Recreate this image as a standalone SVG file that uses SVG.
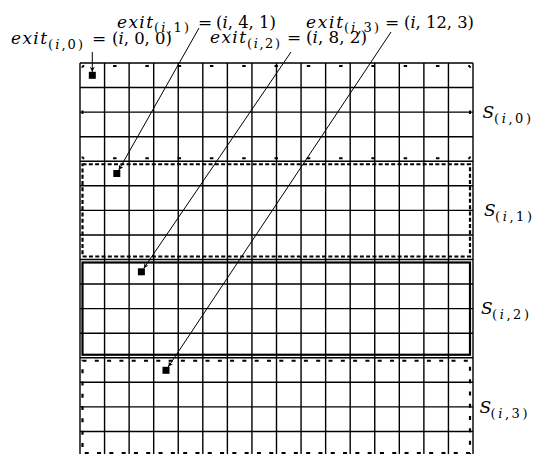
<svg xmlns="http://www.w3.org/2000/svg" width="533" height="454" viewBox="0 0 533 454">
<style>
.grid{fill:none;stroke:#000;stroke-width:1.4}
.band{fill:none;stroke:#000;stroke-width:2.2}
.b0{fill:none;stroke:#000;stroke-width:1.9}
.sq{fill:#000}
.conn{fill:none;stroke:#000;stroke-width:1}
text{font-family:"DejaVu Serif","Liberation Serif",serif;fill:#000}
.m{font-size:17px}
.s{font-size:13px}
.it{font-style:italic}
</style>
<defs>
<marker id="ah" viewBox="0 0 10 10" refX="10" refY="5" markerWidth="5" markerHeight="5" orient="auto" markerUnits="userSpaceOnUse">
<path d="M0,0 L10,5 L0,10 L3,5 Z" fill="#000"/>
</marker>
</defs>
<rect width="533" height="454" fill="#fff"/>
<g id="grid">
<path class="grid" d="M80,63V456M104.56,63V456M129.13,63V456M153.69,63V456M178.25,63V456M202.81,63V456M227.38,63V456M251.94,63V456M276.5,63V456M301.06,63V456M325.63,63V456M350.19,63V456M374.75,63V456M399.31,63V456M423.88,63V456M448.44,63V456M473,63V456M80,63H473M80,87.56H473M80,112.13H473M80,136.69H473M80,161.25H473M80,185.81H473M80,210.38H473M80,234.94H473M80,259.5H473M80,284.06H473M80,308.63H473M80,333.19H473M80,357.75H473M80,382.31H473M80,406.88H473M80,431.44H473"/>
</g>
<g id="band0">
<path class="b0" d="M82.5,66H470M82.5,158.25H470" stroke-dasharray="3.5 28.79" stroke-dashoffset="1.75"/>
<path class="b0" d="M82.5,66V158.25M470,66V158.25" stroke-dasharray="3.5 42.63" stroke-dashoffset="1.75"/>
</g>
<g id="band1"><rect class="band" x="82.5" y="164.25" width="387.5" height="92.25" stroke-dasharray="4 2.3"/></g>
<g id="band2"><rect class="band" x="82.5" y="262.5" width="387.5" height="92.25"/></g>
<g id="band3"><rect class="band" x="82.5" y="360.75" width="387.5" height="92.25" stroke-dasharray="4 8.3"/></g>
<g id="exit0">
<rect class="sq" x="88.8" y="71.8" width="7" height="7"/>
<text class="m it" x="11" y="44" textLength="36" lengthAdjust="spacing">exit</text>
<text class="s" x="48" y="49" textLength="35" lengthAdjust="spacing">(<tspan class="it">i</tspan>,0)</text>
<text class="m" x="92" y="44">=</text>
<text class="m" x="112" y="44" textLength="60" lengthAdjust="spacingAndGlyphs">(<tspan class="it">i</tspan>, 0, 0)</text>
</g>
<g id="exit1">
<rect class="sq" x="113.3" y="170" width="7" height="7"/>
<text class="m it" x="117" y="27.5" textLength="36" lengthAdjust="spacing">exit</text>
<text class="s" x="154" y="32" textLength="35" lengthAdjust="spacing">(<tspan class="it">i</tspan>,1)</text>
<text class="m" x="198" y="27.5">=</text>
<text class="m" x="216" y="27.5" textLength="60" lengthAdjust="spacingAndGlyphs">(<tspan class="it">i</tspan>, 4, 1)</text>
</g>
<g id="exit2">
<rect class="sq" x="137.9" y="268.3" width="7" height="7"/>
<text class="m it" x="210" y="43" textLength="36" lengthAdjust="spacing">exit</text>
<text class="s" x="247" y="48" textLength="33" lengthAdjust="spacing">(<tspan class="it">i</tspan>,2)</text>
<text class="m" x="287" y="43">=</text>
<text class="m" x="306" y="43" textLength="61" lengthAdjust="spacingAndGlyphs">(<tspan class="it">i</tspan>, 8, 2)</text>
</g>
<g id="exit3">
<rect class="sq" x="162.5" y="366.8" width="7" height="7"/>
<text class="m it" x="306" y="27.5" textLength="37" lengthAdjust="spacing">exit</text>
<text class="s" x="344" y="32" textLength="35" lengthAdjust="spacing">(<tspan class="it">i</tspan>,3)</text>
<text class="m" x="385" y="27.5">=</text>
<text class="m" x="404" y="27.5" textLength="70" lengthAdjust="spacingAndGlyphs">(<tspan class="it">i</tspan>, 12, 3)</text>
</g>
<g id="labelS0"><text class="m it" x="482.5" y="118.3">S</text><text class="s" x="494" y="123.3" textLength="37" lengthAdjust="spacing">(<tspan class="it">i</tspan>,0)</text></g>
<g id="labelS1"><text class="m it" x="484" y="216">S</text><text class="s" x="495" y="221" textLength="37" lengthAdjust="spacing">(<tspan class="it">i</tspan>,1)</text></g>
<g id="labelS2"><text class="m it" x="481" y="314">S</text><text class="s" x="492" y="319" textLength="37" lengthAdjust="spacing">(<tspan class="it">i</tspan>,2)</text></g>
<g id="labelS3"><text class="m it" x="479.5" y="412.5">S</text><text class="s" x="490.5" y="417.5" textLength="37" lengthAdjust="spacing">(<tspan class="it">i</tspan>,3)</text></g>
<g id="connectors">
<line class="conn" x1="92.3" y1="52" x2="92.3" y2="71.8" marker-end="url(#ah)"/>
<line class="conn" x1="199" y1="28" x2="118.8" y2="170" marker-end="url(#ah)"/>
<line class="conn" x1="291" y1="52" x2="143.8" y2="268.3" marker-end="url(#ah)"/>
<line class="conn" x1="391" y1="32" x2="168.3" y2="366.8" marker-end="url(#ah)"/>
</g>
</svg>
